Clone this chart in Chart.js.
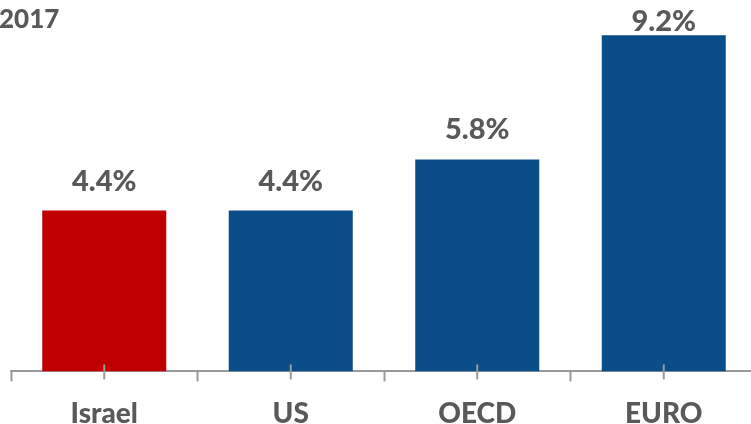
<!DOCTYPE html>
<html>
<head>
<meta charset="utf-8">
<script src="https://cdn.jsdelivr.net/npm/chart.js@4.4.0/dist/chart.umd.min.js"></script>
<style>
    html, body { margin: 0; padding: 0; background: #fff; overflow: hidden; }
    #wrap { position: relative; width: 760px; height: 447px; }
    #title {
        position: absolute; left: -1px; top: 2px;
        font: 900 26px Lato, "Open Sans", sans-serif; color: #595959;
    }
</style>
</head>
<body>
<div id="wrap">
    <canvas id="barChart"></canvas>
    <div id="title">2017</div>
</div>
<script>
// chart data
var categories = ['Israel', 'US', 'OECD', 'EURO'];
var rates = [4.4, 4.4, 5.8, 9.2];
var barColors = ['#C00000', '#0A4D89', '#0A4D89', '#0A4D89'];

var textGray = '#595959';
var axisGray = '#9A9A9A';
var fontFamily = 'Lato, "Open Sans", sans-serif';

// value labels above bars (kept inside the picture at the top)
var valueLabels = {
    id: 'valueLabels',
    afterDatasetsDraw: function (chart) {
        var ctx = chart.ctx;
        var meta = chart.getDatasetMeta(0);
        ctx.save();
        ctx.font = '900 29px ' + fontFamily;
        ctx.fillStyle = textGray;
        ctx.textAlign = 'center';
        ctx.textBaseline = 'alphabetic';
        meta.data.forEach(function (bar, i) {
            var y = Math.max(bar.y - 20, 31);
            ctx.fillText(rates[i].toFixed(1) + '%', bar.x, y);
        });
        ctx.restore();
    }
};

// small ticks at category centres, crossing the axis
var centreTicks = {
    id: 'centreTicks',
    afterDatasetsDraw: function (chart) {
        var ctx = chart.ctx;
        var xs = chart.scales.x;
        var y0 = chart.chartArea.bottom;
        ctx.save();
        ctx.strokeStyle = axisGray;
        ctx.lineWidth = 2;
        categories.forEach(function (c, i) {
            var x = xs.getPixelForValue(i);
            ctx.beginPath();
            ctx.moveTo(x, y0 - 7);
            ctx.lineTo(x, y0 + 8);
            ctx.stroke();
        });
        ctx.restore();
    }
};

var chart = new Chart(document.getElementById('barChart'), {
    type: 'bar',
    data: {
        labels: categories,
        datasets: [{
            data: rates,
            backgroundColor: barColors,
            borderWidth: 0,
            barPercentage: 0.665,
            categoryPercentage: 1.0
        }]
    },
    options: {
        responsive: true,
        maintainAspectRatio: false,
        animation: false,
        layout: { padding: { left: 11, right: 3, top: 6, bottom: 0 } },
        scales: {
            x: {
                grid: {
                    offset: true,
                    drawOnChartArea: false,
                    drawTicks: true,
                    tickLength: 10,
                    tickWidth: 2,
                    color: axisGray
                },
                border: { display: true, color: axisGray, width: 2 },
                ticks: {
                    color: textGray,
                    padding: 16,
                    font: { family: fontFamily, size: 28, weight: '900' }
                }
            },
            y: {
                display: false,
                min: 0,
                max: 10
            }
        },
        plugins: {
            legend: { display: false },
            tooltip: { enabled: false }
        }
    },
    plugins: [valueLabels, centreTicks]
});
</script>
</body>
</html>
